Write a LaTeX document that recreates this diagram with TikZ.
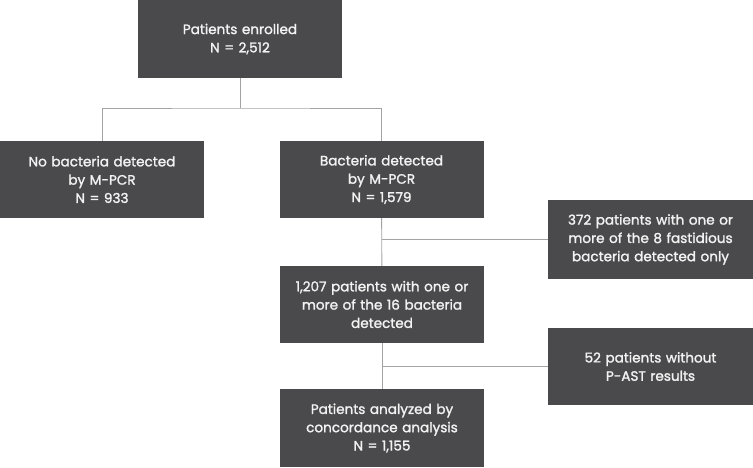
\documentclass[tikz,border=0pt]{standalone}
\usepackage{fontspec}
\setmainfont{Poppins}
\newfontfamily\boxfont{Poppins}[FakeBold=1.6]
\usetikzlibrary{positioning}
\definecolor{boxgray}{HTML}{4A494B}
\definecolor{linegray}{HTML}{A3A3A3}
\definecolor{textwhite}{HTML}{F2F2F2}

\begin{document}
\begin{tikzpicture}[x=1pt, y=-1pt,
    stage/.style={fill=boxgray, text=textwhite, minimum width=204pt, text width=200pt,
      align=center, inner sep=0pt, font=\boxfont\fontsize{13.6}{18.3}\selectfont},
    link/.style={draw=linegray, line width=0.9pt}]
  % Canvas
  \useasboundingbox (0,0) rectangle (753,467);

  % Main column
  \node[stage, minimum height=78pt] (enrolled) at (240,39) {Patients enrolled\\N = 2,512};
  \node[stage, minimum height=77pt] (noBact) at (102,179.5) {No bacteria detected\\by M-PCR\\N = 933};
  \node[stage, minimum height=77pt] (bact) at (381.5,179.5) {Bacteria detected\\by M-PCR\\N = 1,579};
  \node[stage, minimum height=77pt] (sixteen) at (382,304.5) {1,207 patients with one or\\more of the 16 bacteria\\detected};
  \node[stage, minimum height=78pt] (analyzed) at (382,428) {Patients analyzed by\\concordance analysis\\N = 1,155};

  % Exclusions
  \node[stage, minimum height=79pt, minimum width=205pt] (fastid) at (650.5,239.5) {372 patients with one or\\more of the 8 fastidious\\bacteria detected only};
  \node[stage, minimum height=77pt, minimum width=205pt] (noAST) at (650.5,366.5) {52 patients without\\P-AST results};

  % Split
  \coordinate (split) at (240,108);
  \draw[link] (enrolled) -- (split);
  \draw[link] (noBact.north) |- (split) -| (bact.north);

  % Spine
  \draw[link] (bact) -- (sixteen);
  \draw[link] (sixteen) -- (analyzed);
  \draw[link] (fastid.west) -- (fastid.west -| bact.south);
  \draw[link] (noAST.west) -- (noAST.west -| sixteen.south);
\end{tikzpicture}
\end{document}
